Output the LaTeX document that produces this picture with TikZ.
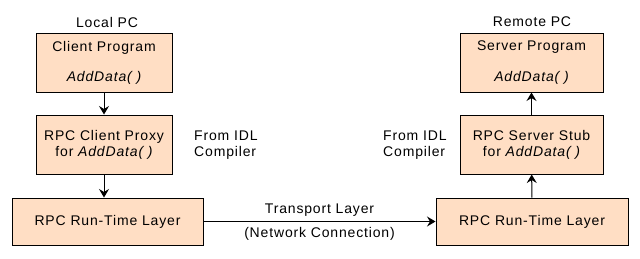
\documentclass[tikz,border=0pt]{standalone}
\usepackage{fontspec}
\setmainfont{Liberation Sans}[LetterSpace=6]
\usetikzlibrary{arrows.meta}
\definecolor{peach}{RGB}{255,222,196}
\tikzset{
  box/.style={draw=black, line width=1pt, fill=peach, inner sep=0pt},
  lbl/.style={inner sep=0pt, font=\fontsize{14}{16}\selectfont},
  conn/.style={line width=1pt, -{Stealth[length=8.5pt,width=10pt,inset=3pt]}}
}
\begin{document}
\begin{tikzpicture}[x=1pt,y=-1pt]
\useasboundingbox (0,0) rectangle (640,258);
% left side
\node[box, minimum width=136pt, minimum height=59pt] (client) at (104,62.5) {};
\node[box, minimum width=136pt, minimum height=59pt] (proxy) at (104,144.5) {};
\node[box, minimum width=191pt, minimum height=47pt] (rtl) at (107.5,221.5) {};
% right side
\node[box, minimum width=143pt, minimum height=59pt] (server) at (531.5,62.5) {};
\node[box, minimum width=143pt, minimum height=59pt] (stub) at (531.5,144.5) {};
\node[box, minimum width=192pt, minimum height=47pt] (rtr) at (532,221.5) {};
% labels
\node[lbl] (localpc) at (107,22) {Local PC};
\node[lbl] (remotepc) at (532,22) {Remote PC};
\node[lbl] (clientt) at (104,47.5) {Client Program};
\node[lbl] (clientf) at (104,78) {\itshape AddData( )};
\node[lbl, align=center] (proxyt) at (104,145) {RPC Client Proxy\\for \itshape AddData( )};
\node[lbl] (rtlt) at (107.5,221.5) {RPC Run-Time Layer};
\node[lbl] (servert) at (531.5,47.5) {Server Program};
\node[lbl] (serverf) at (531.5,78) {\itshape AddData( )};
\node[lbl, align=center] (stubt) at (531.5,145) {RPC Server Stub\\for \itshape AddData( )};
\node[lbl] (rtrt) at (532,221.5) {RPC Run-Time Layer};
\node[lbl, align=left, anchor=west] (idll) at (194,145) {From IDL\\Compiler};
\node[lbl, align=left, anchor=west] (idlr) at (383,145) {From IDL\\Compiler};
% connectors
\draw[conn] (client) -- (proxy);
\draw[conn] (proxy) -- (client.south |- rtl.north);
\draw[conn] (rtr) -- (stub);
\draw[conn] (stub) -- (server);
\draw[conn] (rtl) -- node[lbl, above=5pt] (tl) {Transport Layer} node[lbl, below=5pt] (nc) {(Network Connection)} (rtr);
\end{tikzpicture}
\end{document}
